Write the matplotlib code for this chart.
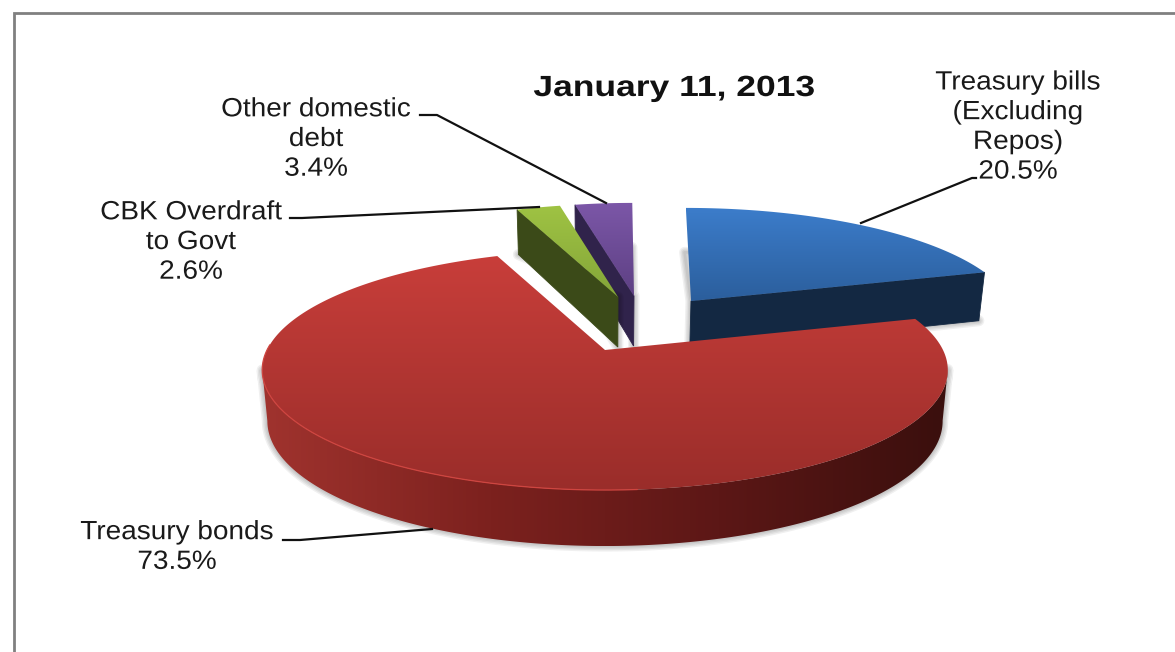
import numpy as np
import matplotlib
matplotlib.use("Agg")
import matplotlib.pyplot as plt
from matplotlib.colors import LinearSegmentedColormap
from matplotlib.patches import Polygon
from matplotlib.patheffects import AbstractPathEffect
from matplotlib.transforms import Affine2D

plt.rcParams['font.family'] = ['Liberation Sans', 'DejaVu Sans']

labels = ["Treasury bills\n(Excluding\nRepos)\n20.5%", "Treasury bonds\n73.5%",
          "CBK Overdraft\nto Govt\n2.6%", "Other domestic\ndebt\n3.4%"]
shares = [20.5, 73.5, 2.6, 3.4]
title = "January 11, 2013"

# pie drawing setup, everything is in pixels
W, H = 1175, 652
CX = 605          # x of the unexploded centre
A, B, K = 338.0, 116.7, 1 / 6.0   # perspective of the disc
apex = [(691, 301), (605, 350), (618, 297), (634, 296)]
radius = [0.92, 1.0, 0.92, 0.92]
x_scale = [1.03, 1.0, 1.0, 1.0]
top_cols = [("#3c7dcb", "#2b5e9c"), ("#c83e3a", "#9a2d2a"), ("#9fc343", "#84a539"), ("#7c57a8", "#5d4083")]
wall_cols = ["#132842", None, "#3b4a18", "#30234b"]
red_wall = ["#a0332e", "#7c211e", "#5c1716", "#3a0f0d"]
# which slices show a cut face, and at which end
cut_end = [1, None, 0, 0]


class WideText(AbstractPathEffect):
    # widens glyphs about a fixed x, the text stays a normal Text artist
    def __init__(self, x0, sx):
        super().__init__()
        self.x0, self.sx = x0, sx

    def draw_path(self, renderer, gc, tpath, affine, rgbFace=None):
        stretch = Affine2D().translate(-self.x0, 0).scale(self.sx, 1).translate(self.x0, 0)
        renderer.draw_path(gc, tpath, affine + stretch, rgbFace)


def project(i, ang, r):
    # ang is clockwise from the back of the disc, in radians
    X, Y = r * np.sin(ang), r * np.cos(ang)
    w = 1 + K * Y
    ax_, ay_ = apex[i]
    sx = ax_ + x_scale[i] * A * X / w - 0.065 * (ax_ - CX) * Y
    sy = ay_ - B * Y / w
    return sx, sy, Y


def drop(x, y, Y):
    # lower rim for a point on the top face
    return CX + (x - CX) * 0.985, y + 50 - 6 * Y


def shadow(ax, pts, zorder=1):
    for lw in (8, 6, 4, 2):
        ax.add_patch(Polygon(pts, closed=True, fc="none", ec="k", lw=lw, alpha=0.06,
                             joinstyle="round", zorder=zorder))


def gradient_fill(ax, pts, cols, vertical, zorder):
    pts = np.asarray(pts)
    poly = Polygon(pts, closed=True, fc="none", ec="none")
    ax.add_patch(poly)
    l, r, t, b = pts[:, 0].min(), pts[:, 0].max(), pts[:, 1].min(), pts[:, 1].max()
    g = np.linspace(0, 1, 256)
    g = g[:, None] if vertical else g[None, :]
    cmap = LinearSegmentedColormap.from_list("fill", cols)
    img = ax.imshow(g, cmap=cmap, vmin=0, vmax=1, extent=(l, r, b, t), aspect="auto",
                    zorder=zorder, interpolation="bilinear")
    img.set_clip_path(poly)


def draw_slice(ax, i, a0, a1, zorder):
    angs = np.linspace(a0, a1, int(max(abs(a1 - a0) * 90, 12)))
    x, y, Y = project(i, angs, radius[i])
    bx, by = drop(x, y, Y)
    ax0, ay0 = apex[i]
    abx, aby = drop(ax0, ay0, 0)

    # only the big slice shows its outer wall, from its right extreme round to the left one
    if i == 1:
        s, e = np.argmax(x), np.argmin(x) + 1
        wall = np.vstack([np.column_stack([x[s:e], y[s:e]]), np.column_stack([bx[s:e], by[s:e]])[::-1]])
        shadow(ax, wall, zorder)
        gradient_fill(ax, wall, red_wall, False, zorder + 0.05)
    else:
        # soft shadow round the underside
        shadow(ax, list(zip(bx, by)) + [(abx, aby), (ax0, ay0)], zorder)

    # cut face towards the viewer
    if cut_end[i] is not None:
        e = -1 if cut_end[i] == 1 else 0
        c = wall_cols[i]
        ax.add_patch(Polygon([(ax0, ay0), (x[e], y[e]), (bx[e], by[e]), (abx, aby)],
                             closed=True, fc=c, ec=c, lw=0.6, zorder=zorder + 0.1))

    # top face with a vertical gradient
    pts = np.column_stack([np.r_[ax0, x], np.r_[ay0, y]])
    gradient_fill(ax, pts, top_cols[i], True, zorder + 0.2)

    # thin bright rim along the left part of the front edge
    if i == 1:
        front = (Y < 0.05) & (x < 640)
        ax.plot(x[front], y[front], color="#cf4540", lw=0.9, zorder=zorder + 0.3, solid_capstyle="round")


fig = plt.figure(figsize=(W / 100, H / 100), dpi=100)
ax = fig.add_axes([0, 0, 1, 1])

# frame runs off the right and the bottom
ax.plot([14, 14, W + 5], [H + 5, 13, 13], color="#808080", lw=2.0, zorder=0, solid_joinstyle="miter")

# slices go clockwise from the back of the disc
edges = np.r_[0, np.cumsum(shares)] / 100 * 2 * np.pi
for i, z in zip([0, 3, 2, 1], [2, 3, 4, 5]):
    draw_slice(ax, i, edges[i], edges[i + 1], z)

# leader lines
leaders = [[(861, 223), (972, 178), (976, 178)],
           [(283, 540), (300, 540), (432, 529)],
           [(290, 218), (302, 218), (539, 207)],
           [(420, 115), (437, 115), (606, 203)]]
for pts in leaders:
    xs, ys = zip(*pts)
    ax.plot(xs, ys, color="#111111", lw=1.6, zorder=8)

label_pos = [(1018, 127), (177, 547), (191, 242), (316, 139)]
for s, (tx, ty) in zip(labels, label_pos):
    ax.text(tx, ty, s, ha="center", va="center", fontsize=19, color="#1a1a1a",
            linespacing=1.3, zorder=9, path_effects=[WideText(tx, 1.06)])
ax.text(674, 88, title, ha="center", va="center", fontsize=21, fontweight="bold",
        color="#111111", zorder=9, path_effects=[WideText(674, 1.215)])

ax.set_xlim(0, W)
ax.set_ylim(H, 0)
ax.axis("off")
fig.savefig("out.png", dpi=100, facecolor="white")
